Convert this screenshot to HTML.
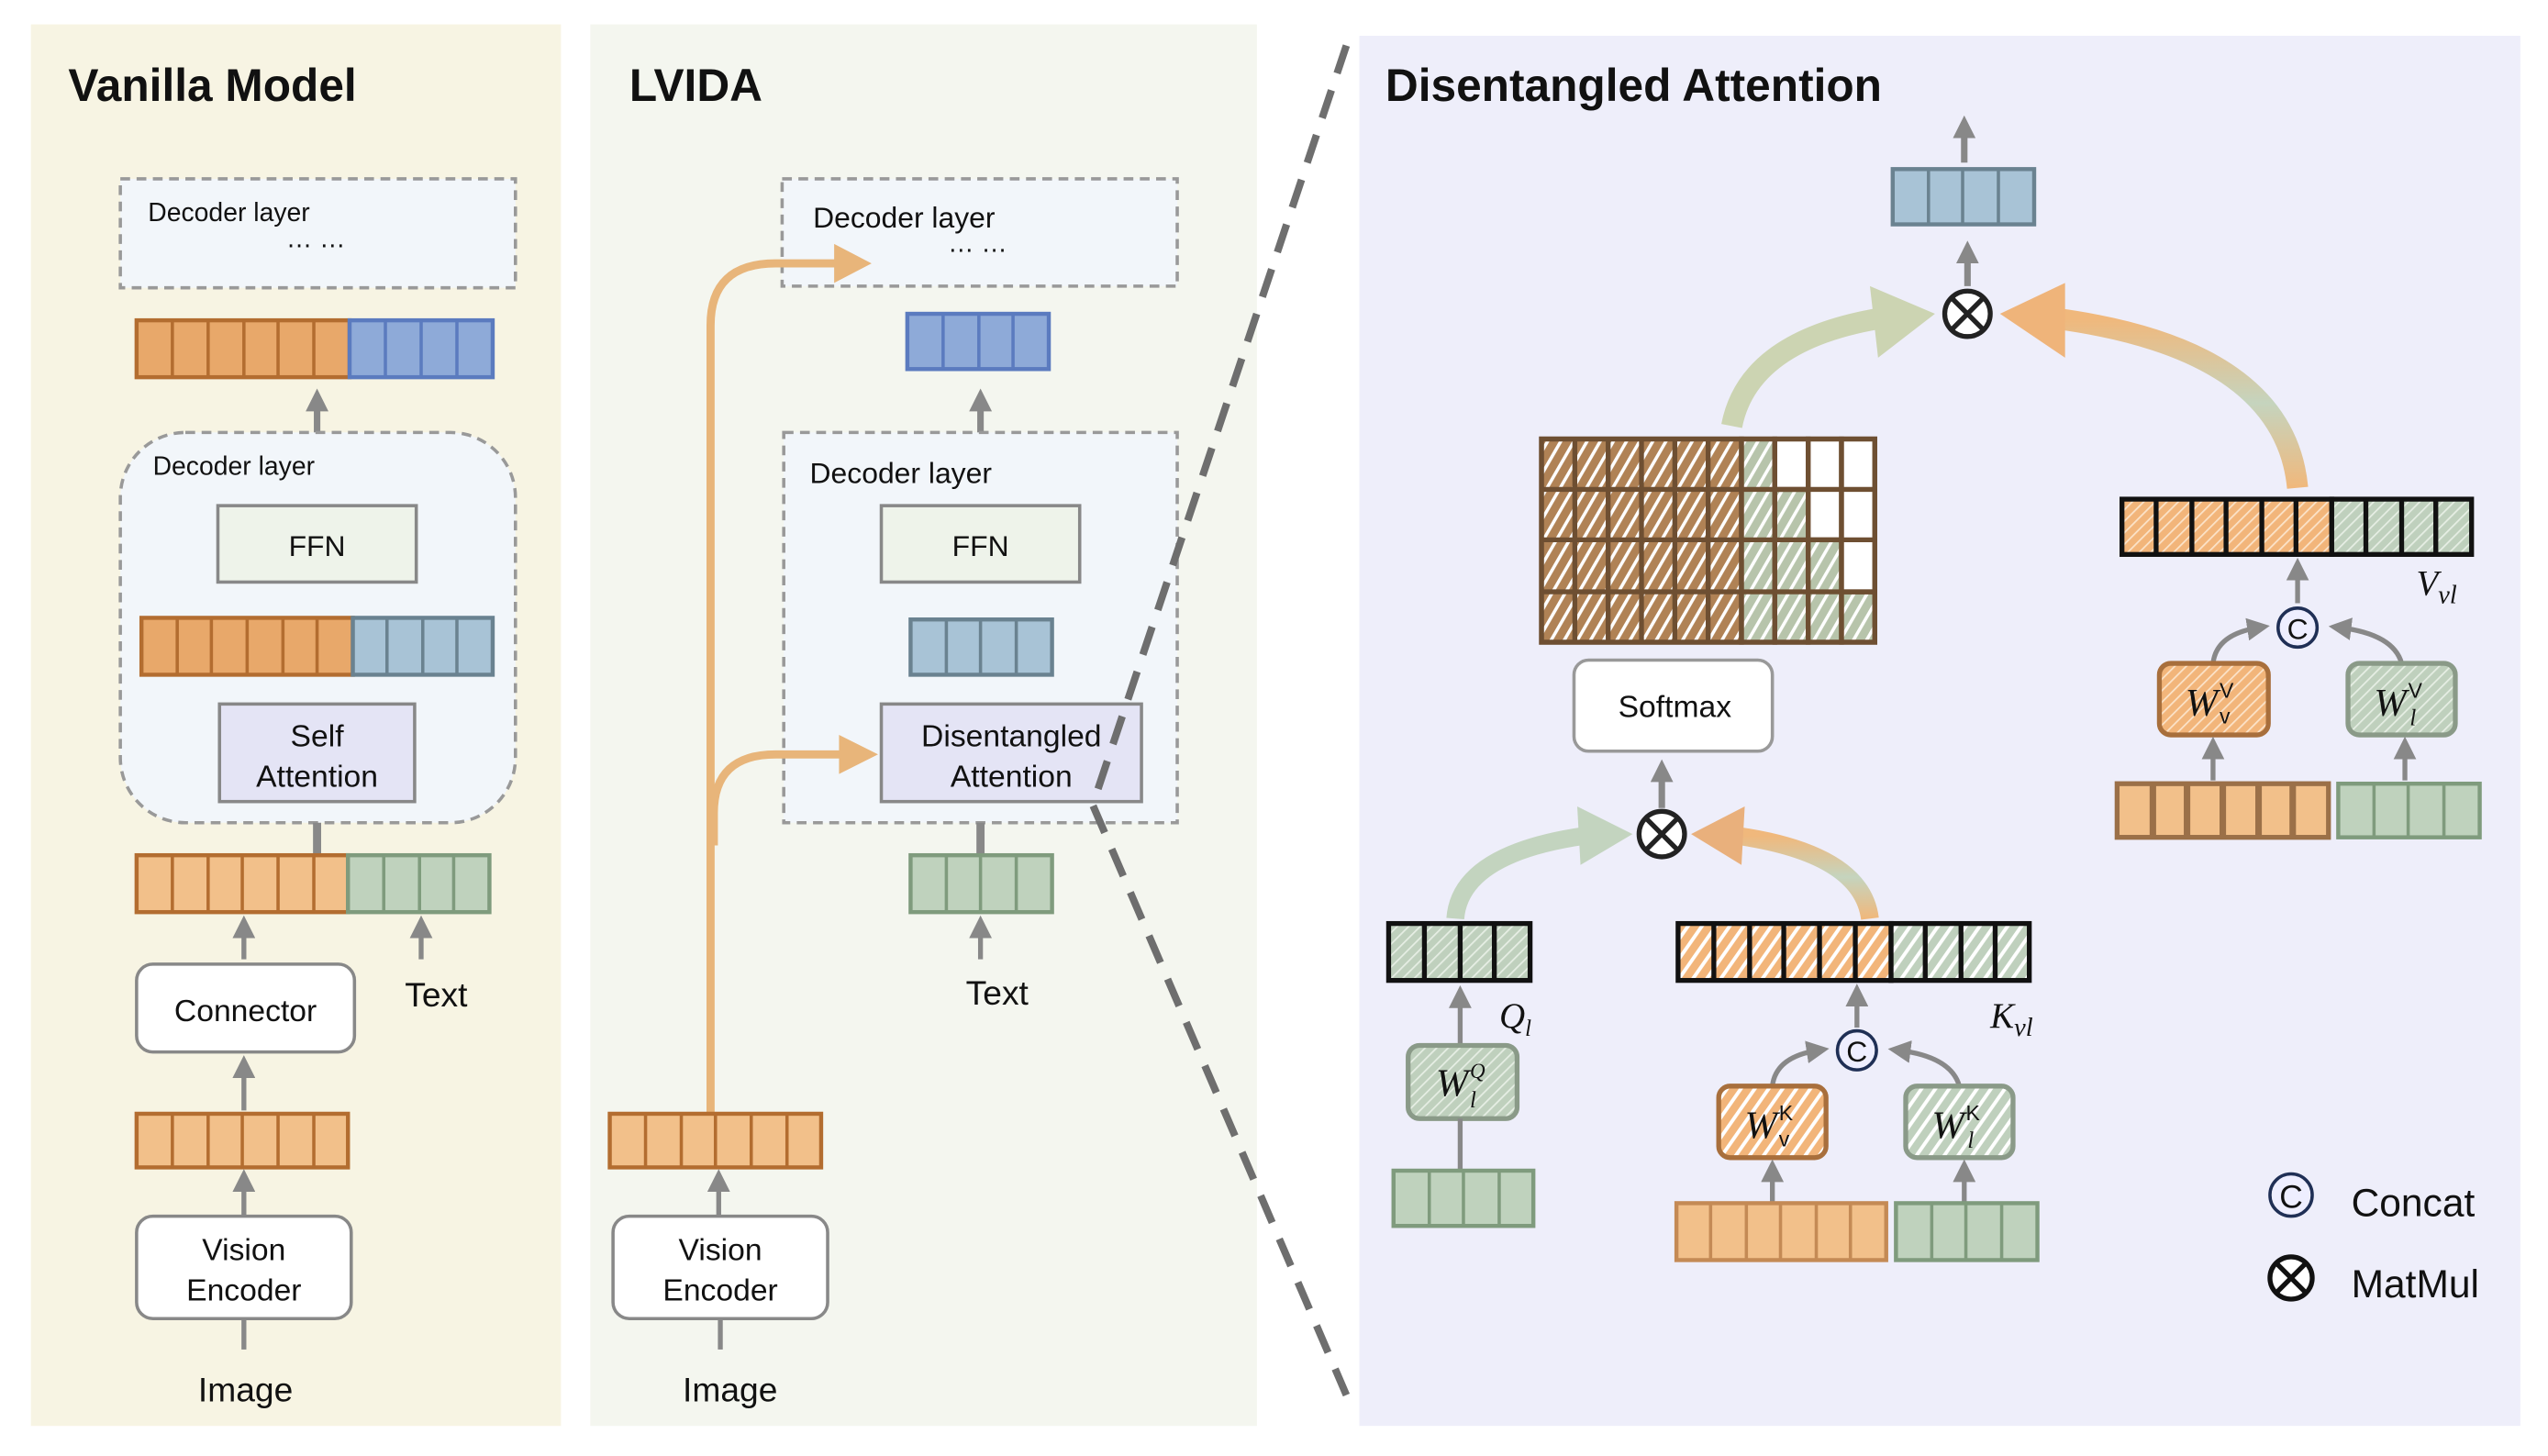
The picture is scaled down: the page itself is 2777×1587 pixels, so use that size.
<!DOCTYPE html>
<html><head><meta charset="utf-8"><style>
html,body{margin:0;padding:0;background:#fff;}
svg{display:block;}
text{font-family:"Liberation Sans","DejaVu Sans",sans-serif;fill:#111;}
.s{font-family:"Liberation Serif",serif;font-style:italic;}
</style></head><body>
<svg width="2777" height="1587" viewBox="0 0 1567 895.5" preserveAspectRatio="none" xmlns="http://www.w3.org/2000/svg">
<defs>
<marker id="ga" viewBox="0 0 10 10" refX="5" refY="5" markerWidth="14" markerHeight="14" markerUnits="userSpaceOnUse" orient="auto"><path d="M0,0 L10,5 L0,10 Z" fill="#888"/></marker>
<pattern id="hb" width="7" height="7" patternUnits="userSpaceOnUse" patternTransform="rotate(30)"><rect width="7" height="7" fill="#b08255"/><rect width="2" height="7" fill="#fff"/></pattern>
<pattern id="hg" width="7" height="7" patternUnits="userSpaceOnUse" patternTransform="rotate(30)"><rect width="7" height="7" fill="#b7c4ab"/><rect width="2" height="7" fill="#fff"/></pattern>
<pattern id="ho" width="7" height="7" patternUnits="userSpaceOnUse" patternTransform="rotate(35)"><rect width="7" height="7" fill="#f2b57a"/><rect width="2.2" height="7" fill="#fff"/></pattern>
<pattern id="hgl" width="7" height="7" patternUnits="userSpaceOnUse" patternTransform="rotate(35)"><rect width="7" height="7" fill="#bfd0bd"/><rect width="2.2" height="7" fill="#fff"/></pattern>
<pattern id="ho2" width="5" height="5" patternUnits="userSpaceOnUse" patternTransform="rotate(45)"><rect width="5" height="5" fill="#f2b57a"/><rect width="1" height="5" fill="#fbe3c9"/></pattern>
<pattern id="hg2" width="5" height="5" patternUnits="userSpaceOnUse" patternTransform="rotate(45)"><rect width="5" height="5" fill="#bfd0bd"/><rect width="1" height="5" fill="#e6eee4"/></pattern>
<linearGradient id="og" x1="0" y1="1" x2="0" y2="0"><stop offset="0" stop-color="#f0b87c"/><stop offset="0.5" stop-color="#c5d4be"/><stop offset="1" stop-color="#f0b87c"/></linearGradient>
</defs>
<!-- panels -->
<rect x="19" y="15" width="326" height="862" fill="#f7f4e3"/>
<rect x="363" y="15" width="410" height="862" fill="#f4f6ef"/>
<rect x="836" y="22" width="714" height="855" fill="#eeeefa"/>

<!-- Panel 1 -->
<text x="42" y="62" font-size="28" font-weight="bold">Vanilla Model</text>
<rect x="74" y="110" width="243" height="67" fill="#f2f6fa" stroke="#999" stroke-width="2" stroke-dasharray="6,4"/>
<text x="91" y="136" font-size="16">Decoder layer</text>
<text x="176" y="152" font-size="16">… …</text>
<rect x="84" y="197" width="131" height="35" fill="#e8a86a" stroke="#b36d30" stroke-width="2.5"/>
<path d="M106,197V232M128,197V232M150,197V232M171,197V232M193,197V232" stroke="#b36d30" stroke-width="2"/>
<rect x="215" y="197" width="88" height="35" fill="#8eaad8" stroke="#5b7bbf" stroke-width="2.5"/>
<path d="M237,197V232M259,197V232M281,197V232" stroke="#5b7bbf" stroke-width="2"/>
<line x1="195" y1="266" x2="195" y2="246" stroke="#888" stroke-width="4" marker-end="url(#ga)"/>
<rect x="74" y="266" width="243" height="240" rx="40" fill="#f2f6fa" stroke="#999" stroke-width="2" stroke-dasharray="6,4"/>
<text x="94" y="292" font-size="16">Decoder layer</text>
<rect x="134" y="311" width="122" height="47" fill="#eef3ea" stroke="#888" stroke-width="2"/>
<text x="195" y="342" font-size="18" text-anchor="middle">FFN</text>
<rect x="87" y="380" width="130" height="35" fill="#e8a86a" stroke="#b36d30" stroke-width="2.5"/>
<path d="M109,380V415M130,380V415M152,380V415M174,380V415M195,380V415" stroke="#b36d30" stroke-width="2"/>
<rect x="217" y="380" width="86" height="35" fill="#a8c3d6" stroke="#6a8290" stroke-width="2.5"/>
<path d="M238,380V415M260,380V415M281,380V415" stroke="#6a8290" stroke-width="2"/>
<rect x="135" y="433" width="120" height="60" fill="#e4e4f5" stroke="#888" stroke-width="2"/>
<text x="195" y="459" font-size="19" text-anchor="middle">Self</text>
<text x="195" y="484" font-size="19" text-anchor="middle">Attention</text>
<line x1="195" y1="506" x2="195" y2="526" stroke="#888" stroke-width="5"/>
<rect x="84" y="526" width="130" height="35" fill="#f2c08a" stroke="#b36d30" stroke-width="2.5"/>
<path d="M106,526V561M128,526V561M149,526V561M171,526V561M193,526V561" stroke="#b36d30" stroke-width="2"/>
<rect x="214" y="526" width="87" height="35" fill="#bfd2bd" stroke="#7f9b7d" stroke-width="2.5"/>
<path d="M236,526V561M258,526V561M279,526V561" stroke="#7f9b7d" stroke-width="2"/>
<line x1="150" y1="590" x2="150" y2="570" stroke="#888" stroke-width="3" marker-end="url(#ga)"/>
<line x1="259" y1="590" x2="259" y2="570" stroke="#888" stroke-width="3" marker-end="url(#ga)"/>
<rect x="84" y="593" width="134" height="54" rx="10" fill="#fff" stroke="#888" stroke-width="2"/>
<text x="151" y="628" font-size="19" text-anchor="middle">Connector</text>
<text x="249" y="619" font-size="21">Text</text>
<line x1="150" y1="683" x2="150" y2="656" stroke="#888" stroke-width="3" marker-end="url(#ga)"/>
<rect x="84" y="685" width="130" height="33" fill="#f2c08a" stroke="#b36d30" stroke-width="2.5"/>
<path d="M106,685V718M128,685V718M149,685V718M171,685V718M193,685V718" stroke="#b36d30" stroke-width="2"/>
<line x1="150" y1="748" x2="150" y2="726" stroke="#888" stroke-width="3" marker-end="url(#ga)"/>
<rect x="84" y="748" width="132" height="63" rx="10" fill="#fff" stroke="#888" stroke-width="2"/>
<text x="150" y="775" font-size="19" text-anchor="middle">Vision</text>
<text x="150" y="800" font-size="19" text-anchor="middle">Encoder</text>
<line x1="150" y1="811" x2="150" y2="830" stroke="#888" stroke-width="3"/>
<text x="151" y="862" font-size="21" text-anchor="middle">Image</text>

<!-- Panel 2 -->
<text x="387" y="62" font-size="28" font-weight="bold">LVIDA</text>
<rect x="481" y="110" width="243" height="66" fill="#f2f6fa" stroke="#999" stroke-width="2" stroke-dasharray="6,4"/>
<text x="500" y="140" font-size="18">Decoder layer</text>
<text x="583" y="155" font-size="16">… …</text>
<rect x="558" y="193" width="87" height="34" fill="#8eaad8" stroke="#5b7bbf" stroke-width="2.5"/>
<path d="M580,193V227M602,193V227M623,193V227" stroke="#5b7bbf" stroke-width="2"/>
<line x1="603" y1="266" x2="603" y2="246" stroke="#888" stroke-width="4" marker-end="url(#ga)"/>
<rect x="482" y="266" width="242" height="240" fill="#f2f6fa" stroke="#999" stroke-width="2" stroke-dasharray="6,4"/>
<text x="498" y="297" font-size="18">Decoder layer</text>
<rect x="542" y="311" width="122" height="47" fill="#eef3ea" stroke="#888" stroke-width="2"/>
<text x="603" y="342" font-size="18" text-anchor="middle">FFN</text>
<rect x="560" y="381" width="87" height="34" fill="#a8c3d6" stroke="#6a8290" stroke-width="2.5"/>
<path d="M582,381V415M603,381V415M625,381V415" stroke="#6a8290" stroke-width="2"/>
<rect x="542" y="433" width="160" height="60" fill="#e4e4f5" stroke="#888" stroke-width="2"/>
<text x="622" y="459" font-size="19" text-anchor="middle">Disentangled</text>
<text x="622" y="484" font-size="19" text-anchor="middle">Attention</text>
<line x1="603" y1="506" x2="603" y2="526" stroke="#888" stroke-width="5"/>
<rect x="560" y="526" width="87" height="35" fill="#bfd2bd" stroke="#7f9b7d" stroke-width="2.5"/>
<path d="M582,526V561M603,526V561M625,526V561" stroke="#7f9b7d" stroke-width="2"/>
<line x1="603" y1="590" x2="603" y2="570" stroke="#888" stroke-width="3" marker-end="url(#ga)"/>
<text x="594" y="618" font-size="21">Text</text>
<path d="M437,685 L437,200 Q437,162 477,162 L515,162" fill="none" stroke="#e8b57a" stroke-width="5"/>
<path d="M513,150 L536,162 L513,174 Z" fill="#e8b57a"/>
<path d="M439,520 L439,500 Q439,464 477,464 L518,464" fill="none" stroke="#e8b57a" stroke-width="5"/>
<path d="M516,452 L540,464 L516,476 Z" fill="#e8b57a"/>
<rect x="375" y="685" width="130" height="33" fill="#f2c08a" stroke="#b36d30" stroke-width="2.5"/>
<path d="M397,685V718M419,685V718M440,685V718M462,685V718M484,685V718" stroke="#b36d30" stroke-width="2"/>
<line x1="442" y1="748" x2="442" y2="726" stroke="#888" stroke-width="3" marker-end="url(#ga)"/>
<rect x="377" y="748" width="132" height="63" rx="10" fill="#fff" stroke="#888" stroke-width="2"/>
<text x="443" y="775" font-size="19" text-anchor="middle">Vision</text>
<text x="443" y="800" font-size="19" text-anchor="middle">Encoder</text>
<line x1="443" y1="811" x2="443" y2="830" stroke="#888" stroke-width="3"/>
<text x="449" y="862" font-size="21" text-anchor="middle">Image</text>

<path d="M828,28 L672,495 L828,858" fill="none" stroke="#6e6e6e" stroke-width="4.5" stroke-dasharray="18,11"/>

<!-- Panel 3 -->
<text x="852" y="62" font-size="28" font-weight="bold" fill="#222">Disentangled Attention</text>
<line x1="1208" y1="100" x2="1208" y2="78" stroke="#888" stroke-width="4" marker-end="url(#ga)"/>
<rect x="1164" y="104" width="87" height="34" fill="#a8c3d6" stroke="#6a8290" stroke-width="2.5"/>
<path d="M1186,104V138M1207,104V138M1229,104V138" stroke="#6a8290" stroke-width="2"/>
<line x1="1210" y1="176" x2="1210" y2="155" stroke="#888" stroke-width="4" marker-end="url(#ga)"/>
<path d="M1065,262 Q1075,210 1155,196" fill="none" stroke="#ccd4b2" stroke-width="13"/>
<path d="M1150,176 L1190,193 L1155,220 Z" fill="#ccd4b2"/>
<path d="M1413,300 Q1405,215 1265,196" fill="none" stroke="url(#og)" stroke-width="13"/>
<path d="M1270,174 L1230,193 L1270,220 Z" fill="#efb47a"/>
<circle cx="1210" cy="193" r="14" fill="#fff" stroke="#222" stroke-width="3"/>
<path d="M1200,183L1220,203M1220,183L1200,203" stroke="#222" stroke-width="3"/>
<g stroke="#6e4f32" stroke-width="3">
<rect x="948" y="270" width="123" height="125" fill="url(#hb)"/>
<rect x="1071" y="270" width="20.5" height="125" fill="url(#hg)"/>
<rect x="1091.5" y="301" width="20.5" height="94" fill="url(#hg)"/>
<rect x="1112" y="332" width="20.5" height="63" fill="url(#hg)"/>
<rect x="1132.5" y="364" width="20.5" height="31" fill="url(#hg)"/>
<rect x="1091.5" y="270" width="20.5" height="31" fill="#fff"/>
<rect x="1112" y="270" width="20.5" height="62" fill="#fff"/>
<rect x="1132.5" y="270" width="20.5" height="94" fill="#fff"/>
<path d="M968.5,270V395M989,270V395M1009.5,270V395M1030,270V395M1050.5,270V395M1071,270V395M1091.5,270V395M1112,270V395M1132.5,270V395M948,301H1153M948,332H1153M948,364H1153" fill="none"/>
<rect x="948" y="270" width="205" height="125" fill="none"/>
</g>
<rect x="968" y="406" width="122" height="56" rx="9" fill="#fff" stroke="#999" stroke-width="2"/>
<text x="1030" y="441" font-size="19" text-anchor="middle">Softmax</text>
<line x1="1022" y1="497" x2="1022" y2="474" stroke="#888" stroke-width="4" marker-end="url(#ga)"/>
<path d="M895,565 Q898,525 975,514" fill="none" stroke="#c3d4bf" stroke-width="11"/>
<path d="M970,496 L1004,513 L972,532 Z" fill="#c3d4bf"/>
<path d="M1150,565 Q1145,525 1068,514" fill="none" stroke="url(#og)" stroke-width="11"/>
<path d="M1073,496 L1040,513 L1071,532 Z" fill="#e9b07c"/>
<circle cx="1022" cy="513" r="14" fill="#fff" stroke="#222" stroke-width="3"/>
<path d="M1012,503L1032,523M1032,503L1012,523" stroke="#222" stroke-width="3"/>
<!-- Q -->
<rect x="854" y="568" width="87" height="35" fill="url(#hg2)" stroke="#111" stroke-width="3"/>
<path d="M876,568V603M898,568V603M919,568V603" stroke="#111" stroke-width="3"/>
<line x1="898" y1="643" x2="898" y2="613" stroke="#888" stroke-width="3" marker-end="url(#ga)"/>
<text x="922" y="632" font-size="22" class="s">Q<tspan font-size="14" dy="5">l</tspan></text>
<rect x="866" y="643" width="67" height="45" rx="7" fill="url(#hg2)" stroke="#8a9a88" stroke-width="3"/>
<text x="883" y="674" font-size="24" class="s">W</text><text x="904" y="663" font-size="13" class="s">Q</text><text x="904" y="681" font-size="14" class="s">l</text>
<line x1="898" y1="688" x2="898" y2="720" stroke="#888" stroke-width="3"/>
<rect x="857" y="720" width="86" height="34" fill="#bfd2bd" stroke="#7f9b7d" stroke-width="2.5"/>
<path d="M879,720V754M900,720V754M922,720V754" stroke="#7f9b7d" stroke-width="2"/>
<!-- K -->
<rect x="1032" y="568" width="131" height="35" fill="url(#ho)" stroke="#111" stroke-width="3"/>
<rect x="1163" y="568" width="85" height="35" fill="url(#hgl)" stroke="#111" stroke-width="3"/>
<path d="M1054,568V603M1076,568V603M1097,568V603M1119,568V603M1141,568V603M1184,568V603M1206,568V603M1227,568V603" stroke="#111" stroke-width="3"/>
<line x1="1142" y1="632" x2="1142" y2="612" stroke="#888" stroke-width="3" marker-end="url(#ga)"/>
<text x="1224" y="632" font-size="22" class="s">K<tspan font-size="16" dy="5">vl</tspan></text>
<circle cx="1142" cy="646" r="12" fill="#eef" stroke="#1f2f55" stroke-width="2"/>
<text x="1142" y="653" font-size="18" text-anchor="middle">C</text>
<path d="M1090,668 Q1092,650 1118,646" fill="none" stroke="#888" stroke-width="3" marker-end="url(#ga)"/>
<path d="M1205,668 Q1200,650 1168,646" fill="none" stroke="#888" stroke-width="3" marker-end="url(#ga)"/>
<rect x="1057" y="668" width="66" height="44" rx="7" fill="url(#ho)" stroke="#a86f3c" stroke-width="3"/>
<text x="1073" y="700" font-size="24" class="s">W</text><text x="1094" y="689" font-size="13" font-family="Liberation Serif">K</text><text x="1094" y="705" font-size="13" font-family="Liberation Serif">v</text>
<rect x="1172" y="668" width="66" height="44" rx="7" fill="url(#hgl)" stroke="#8a9a88" stroke-width="3"/>
<text x="1188" y="700" font-size="24" class="s">W</text><text x="1209" y="689" font-size="13" font-family="Liberation Serif">K</text><text x="1210" y="706" font-size="14" class="s">l</text>
<line x1="1090" y1="740" x2="1090" y2="720" stroke="#888" stroke-width="3" marker-end="url(#ga)"/>
<line x1="1208" y1="740" x2="1208" y2="720" stroke="#888" stroke-width="3" marker-end="url(#ga)"/>
<rect x="1031" y="740" width="129" height="35" fill="#f2c08a" stroke="#c48a55" stroke-width="2.5"/>
<path d="M1052,740V775M1074,740V775M1095,740V775M1117,740V775M1138,740V775" stroke="#c48a55" stroke-width="2"/>
<rect x="1166" y="740" width="87" height="35" fill="#bfd2bd" stroke="#7f9b7d" stroke-width="2.5"/>
<path d="M1188,740V775M1209,740V775M1231,740V775" stroke="#7f9b7d" stroke-width="2"/>
<!-- V -->
<rect x="1305" y="307" width="129" height="34" fill="url(#ho2)" stroke="#111" stroke-width="3"/>
<rect x="1434" y="307" width="86" height="34" fill="url(#hg2)" stroke="#111" stroke-width="3"/>
<path d="M1326,307V341M1348,307V341M1369,307V341M1391,307V341M1412,307V341M1455,307V341M1477,307V341M1498,307V341" stroke="#111" stroke-width="3"/>
<line x1="1413" y1="371" x2="1413" y2="350" stroke="#888" stroke-width="3" marker-end="url(#ga)"/>
<text x="1486" y="366" font-size="22" class="s">V<tspan font-size="16" dy="5">vl</tspan></text>
<circle cx="1413" cy="386" r="12" fill="#eef" stroke="#1f2f55" stroke-width="2"/>
<text x="1413" y="393" font-size="18" text-anchor="middle">C</text>
<path d="M1361,408 Q1363,390 1389,386" fill="none" stroke="#888" stroke-width="3" marker-end="url(#ga)"/>
<path d="M1477,408 Q1472,390 1439,386" fill="none" stroke="#888" stroke-width="3" marker-end="url(#ga)"/>
<rect x="1328" y="408" width="67" height="44" rx="7" fill="url(#ho2)" stroke="#a86f3c" stroke-width="3"/>
<text x="1344" y="440" font-size="24" class="s">W</text><text x="1365" y="429" font-size="13" font-family="Liberation Serif">V</text><text x="1365" y="445" font-size="13" font-family="Liberation Serif">v</text>
<rect x="1444" y="408" width="66" height="44" rx="7" fill="url(#hg2)" stroke="#8a9a88" stroke-width="3"/>
<text x="1460" y="440" font-size="24" class="s">W</text><text x="1481" y="429" font-size="13" font-family="Liberation Serif">V</text><text x="1482" y="446" font-size="14" class="s">l</text>
<line x1="1361" y1="480" x2="1361" y2="460" stroke="#888" stroke-width="3" marker-end="url(#ga)"/>
<line x1="1479" y1="480" x2="1479" y2="460" stroke="#888" stroke-width="3" marker-end="url(#ga)"/>
<rect x="1302" y="482" width="130" height="33" fill="#f2c08a" stroke="#9b7048" stroke-width="3"/>
<path d="M1324,482V515M1345,482V515M1367,482V515M1389,482V515M1410,482V515" stroke="#9b7048" stroke-width="4"/>
<rect x="1438" y="482" width="87" height="33" fill="#bfd2bd" stroke="#7f9b7d" stroke-width="2.5"/>
<path d="M1460,482V515M1481,482V515M1503,482V515" stroke="#7f9b7d" stroke-width="2"/>
<!-- legend -->
<circle cx="1409" cy="735" r="13" fill="#eef" stroke="#1f2f55" stroke-width="2"/>
<text x="1409" y="743" font-size="20" text-anchor="middle">C</text>
<text x="1446" y="748" font-size="24" fill="#333">Concat</text>
<circle cx="1409" cy="786" r="13" fill="#fff" stroke="#111" stroke-width="3"/>
<path d="M1400,777L1418,795M1418,777L1400,795" stroke="#111" stroke-width="3"/>
<text x="1446" y="798" font-size="24" fill="#333">MatMul</text>
</svg>
</body></html>
